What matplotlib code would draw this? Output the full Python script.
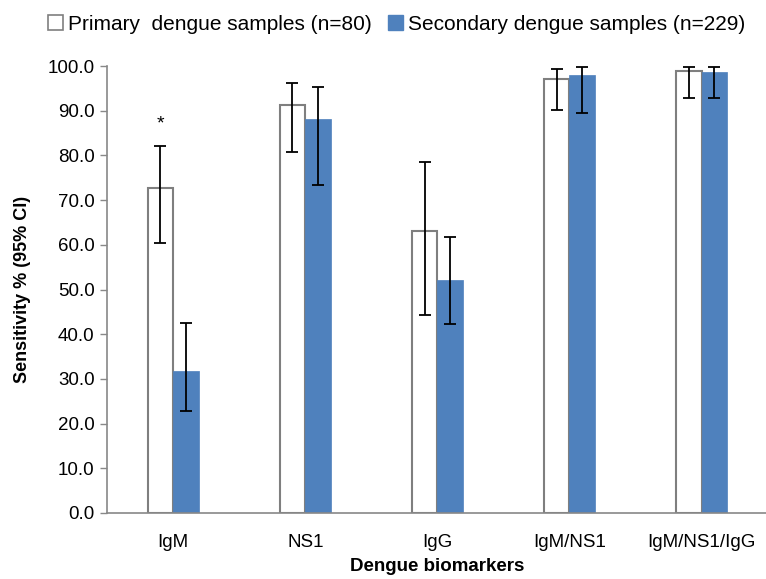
import numpy as np
import matplotlib.pyplot as plt
from matplotlib.patches import Patch

plt.rcParams['font.family'] = ['Liberation Sans', 'DejaVu Sans']

categories = ["IgM", "NS1", "IgG", "IgM/NS1", "IgM/NS1/IgG"]
primary = [72.6, 91.2, 63.1, 97.1, 98.8]
primary_low = [60.4, 80.8, 44.3, 90.2, 92.8]
primary_high = [82.1, 96.2, 78.5, 99.3, 99.8]
secondary = [31.8, 88.1, 52.1, 98.0, 98.7]
secondary_low = [22.8, 73.4, 42.3, 89.5, 92.9]
secondary_high = [42.5, 95.3, 61.7, 99.8, 99.8]

x = np.arange(len(categories))
w = 0.195

fig = plt.figure(figsize=(7.66, 5.79), dpi=100)
ax = fig.add_axes([0.140, 0.114, 0.862, 0.772])

prim = np.array(primary)
sec = np.array(secondary)
ax.bar(x - w / 2, prim, w, color="white", edgecolor="#7f7f7f", linewidth=1.5, zorder=2)
ax.bar(x + w / 2, sec, w, color="#4f81bd", edgecolor="#4f81bd", linewidth=0.5, zorder=2)

err_p = [prim - np.array(primary_low), np.array(primary_high) - prim]
err_s = [sec - np.array(secondary_low), np.array(secondary_high) - sec]
ax.errorbar(x - w / 2, prim, yerr=err_p, fmt="none", ecolor="black",
            elinewidth=1.3, capsize=4, capthick=1.3, zorder=3)
ax.errorbar(x + w / 2, sec, yerr=err_s, fmt="none", ecolor="black",
            elinewidth=1.3, capsize=4, capthick=1.3, zorder=3)

# significance marker
ax.text(x[0] - w / 2, 87.0, "*", ha="center", va="center", fontsize=14)

ax.set_xlim(-0.5, 4.5)
ax.set_ylim(0, 100)
ax.set_yticks(np.arange(0, 101, 10))
ax.set_yticklabels([f"{v:.1f}" for v in np.arange(0, 101, 10)], fontsize=13.5)
ax.set_xticks(x)
ax.set_xticklabels(categories, fontsize=13.5)
ax.tick_params(axis="x", length=0, pad=15)
ax.tick_params(axis="y", length=5, color="#888888", width=1, pad=4)

for s in ["top", "right"]:
    ax.spines[s].set_visible(False)
for s in ["left", "bottom"]:
    ax.spines[s].set_color("#888888")
    ax.spines[s].set_linewidth(1.2)

ax.set_ylabel("Sensitivity % (95% CI)", fontsize=13, fontweight="bold", labelpad=12)
ax.set_xlabel("Dengue biomarkers", fontsize=13.5, fontweight="bold", labelpad=5)

handles = [
    Patch(facecolor="white", edgecolor="#7f7f7f", linewidth=1.2, label="Primary  dengue samples (n=80)"),
    Patch(facecolor="#4f81bd", edgecolor="#4f81bd", label="Secondary dengue samples (n=229)"),
]
fig.legend(handles=handles, loc="center", bbox_to_anchor=(0.518, 0.958), ncol=2,
           frameon=False, fontsize=15, handlelength=0.7, handleheight=0.7,
           handletextpad=0.25, columnspacing=0.8)

fig.savefig("out.png", dpi=100)
